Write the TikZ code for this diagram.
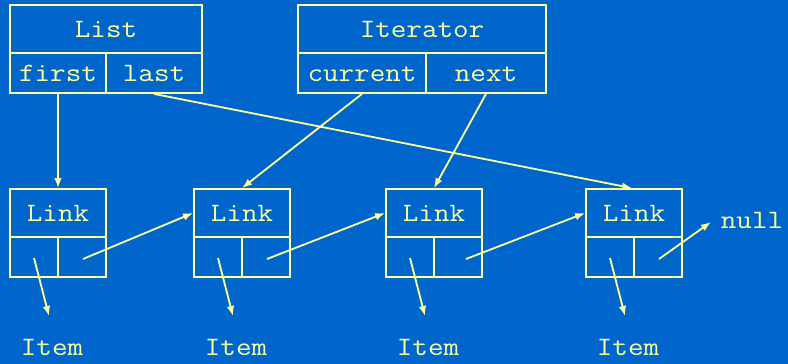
\documentclass[tikz,border=0pt]{standalone}
\usepackage{fontspec}
\setmonofont[FakeStretch=1.14]{Latin Modern Mono}
\usetikzlibrary{arrows.meta}
\definecolor{bg}{HTML}{0066CC}
\definecolor{yel}{HTML}{FFFF99}
\begin{document}
\begin{tikzpicture}[x=1pt,y=-1pt,
  cell/.style={draw=yel,line width=1.8pt,rectangle,inner sep=0pt,anchor=center,
    text=yel,font=\ttfamily\fontsize{26.5}{30}\selectfont,text height=16pt,text depth=0pt},
  lbl/.style={text=yel,font=\ttfamily\fontsize{26.5}{30}\selectfont,inner sep=0pt,anchor=base},
  ptr/.style={draw=yel,line width=1.8pt,-{Latex[length=10pt,width=7.5pt]}}]
\fill[bg] (0,0) rectangle (788,364);
\useasboundingbox (0,0) rectangle (788,364);
% List
\node[cell,minimum width=192pt,minimum height=48pt] (list) at (106,29) {List};
\node[cell,minimum width=96pt,minimum height=40pt] (first) at (58,73) {first};
\node[cell,minimum width=96pt,minimum height=40pt] (last) at (154,73) {last};
% Iterator
\node[cell,minimum width=248pt,minimum height=48pt] (iter) at (422,29) {Iterator};
\node[cell,minimum width=128pt,minimum height=40pt] (current) at (362,73) {current};
\node[cell,minimum width=120pt,minimum height=40pt] (next) at (486,73) {next};
% Links
\foreach \i/\c/\o in {1/58/25,2/242/25,3/434/32,4/634/25}{
  \node[cell,minimum width=96pt,minimum height=48pt] (link\i) at (\c,213) {Link};
  \node[cell,minimum width=48pt,minimum height=40pt] (item\i) at (\c-24,257) {};
  \node[cell,minimum width=48pt,minimum height=40pt] (nxt\i) at (\c+24,257) {};
  \coordinate (is\i) at (\c-24,258);
  \coordinate (ns\i) at (\c+\o,259);
  \node[lbl] (itemlbl\i) at (\c-6,355) {Item};
  \coordinate (ie\i) at (\c-9,316);
}
\node[lbl] (null) at (752,228) {null};
% pointers
\draw[ptr] (first.south) -- (link1.north);
\draw[ptr] (last.south) -- ([xshift=-2pt]link4.north);
\draw[ptr] (current.south) -- (link2.north);
\draw[ptr] (next.south) -- (link3.north);
\draw[ptr] (ns1) -- (link2.west);
\draw[ptr] (ns2) -- (link3.west);
\draw[ptr] (ns3) -- (link4.west);
\draw[ptr] (ns4) -- (711,222);
\foreach \i in {1,2,3,4}{
  \draw[ptr] (is\i) -- (ie\i);
}
\end{tikzpicture}
\end{document}
